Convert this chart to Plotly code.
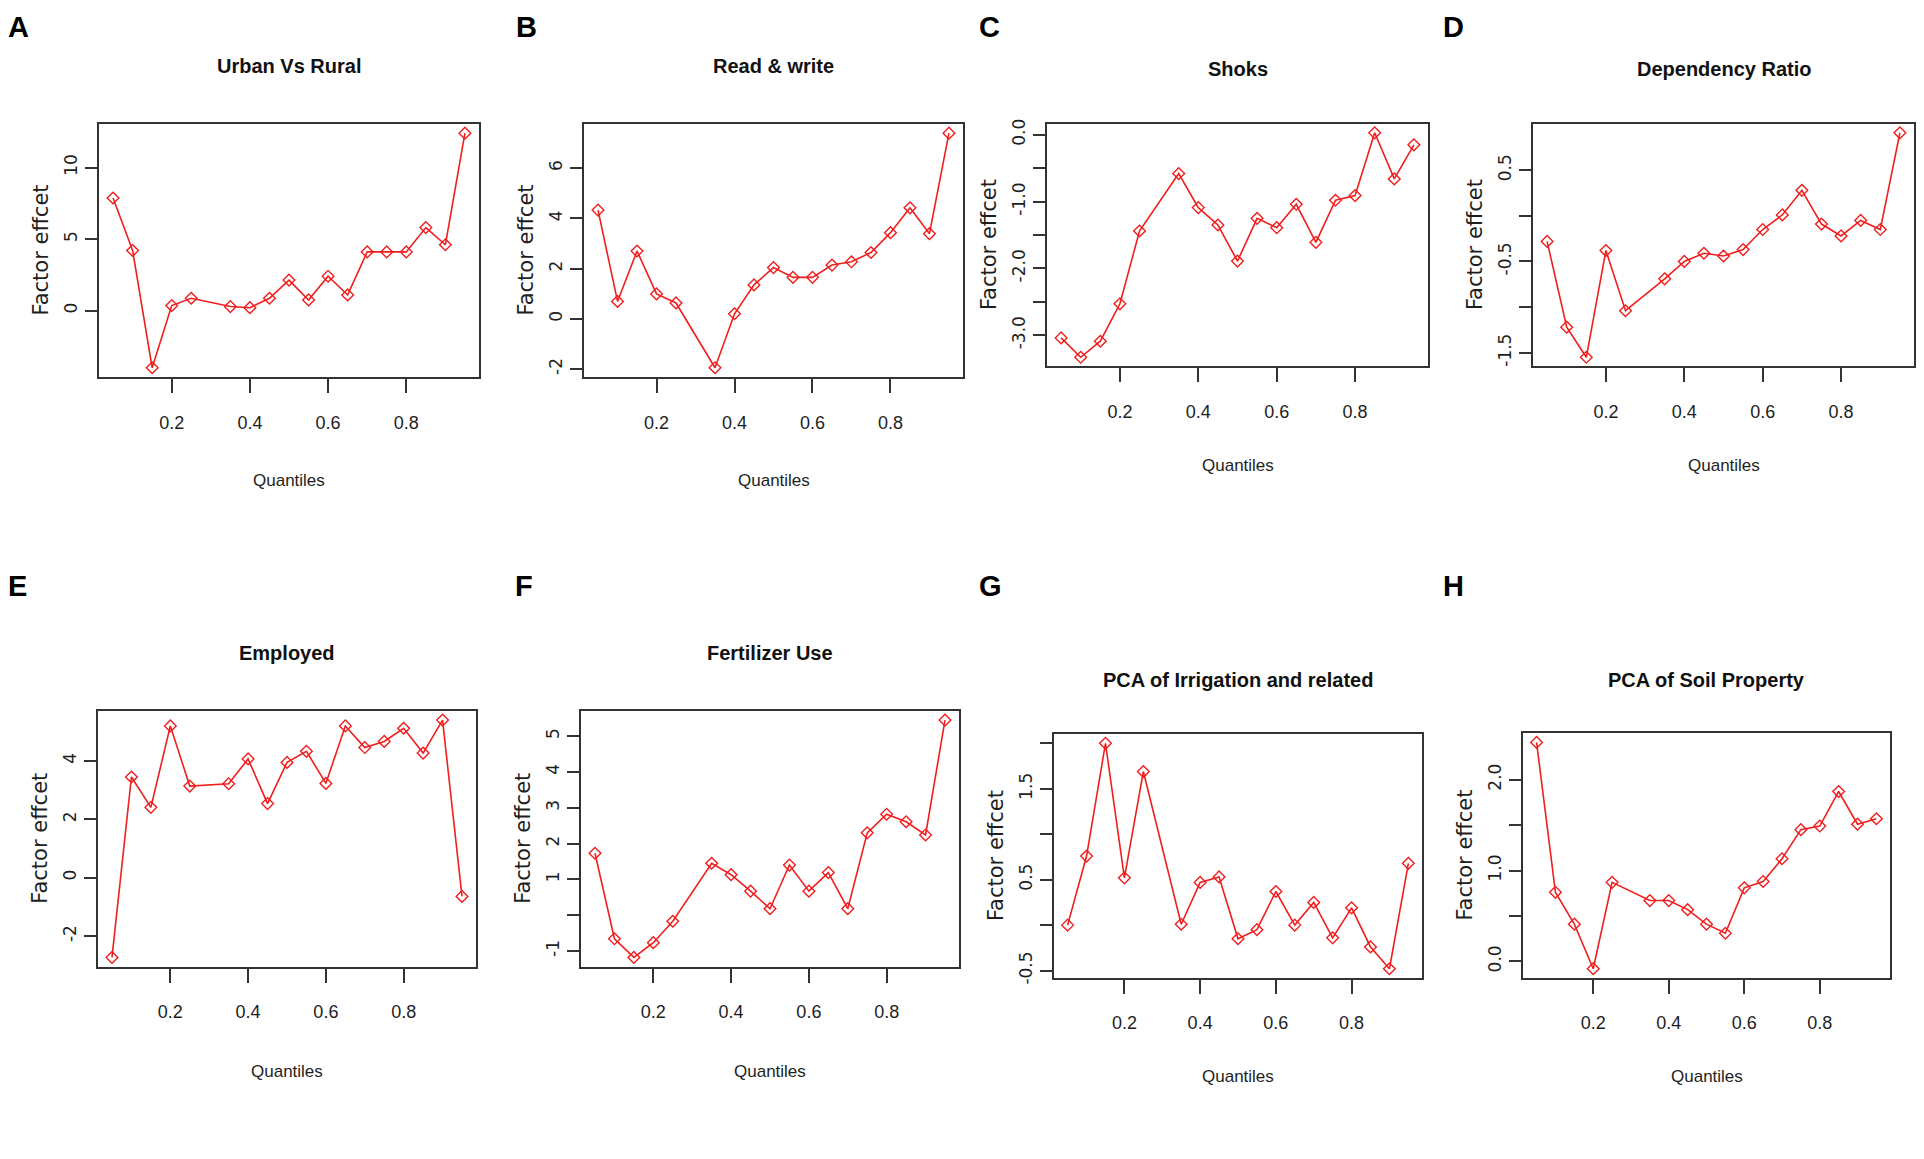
import plotly.graph_objects as go

# page body has an 8px margin; figure is sized to fit inside the window
OFF = 8
W, H = 1908, 1143

# ---------------- data ----------------
quantiles = [0.05, 0.10, 0.15, 0.20, 0.25, 0.35, 0.40, 0.45, 0.50,
             0.55, 0.60, 0.65, 0.70, 0.75, 0.80, 0.85, 0.90, 0.95]

urban_vs_rural = [7.87, 4.2, -4.0, 0.35, 0.86, 0.28, 0.2, 0.86, 2.13,
                  0.74, 2.4, 1.09, 4.1, 4.1, 4.1, 5.8, 4.6, 12.4]
read_write = [4.33, 0.69, 2.7, 0.99, 0.63, -1.95, 0.2, 1.35, 2.04,
              1.65, 1.65, 2.14, 2.27, 2.64, 3.43, 4.42, 3.39, 7.39]
shoks = [-3.04, -3.33, -3.09, -2.53, -1.44, -0.58, -1.09, -1.35, -1.89,
         -1.25, -1.39, -1.04, -1.61, -0.98, -0.91, 0.03, -0.66, -0.15]
dependency_ratio = [-0.28, -1.22, -1.55, -0.38, -1.04, -0.69, -0.50, -0.41, -0.44,
                    -0.37, -0.15, 0.01, 0.28, -0.09, -0.22, -0.05, -0.15, 0.91]
employed = [-2.73, 3.45, 2.41, 5.2, 3.14, 3.22, 4.07, 2.54, 3.95,
            4.33, 3.23, 5.2, 4.46, 4.67, 5.12, 4.27, 5.4, -0.64]
fertilizer_use = [1.73, -0.66, -1.18, -0.77, -0.17, 1.45, 1.13, 0.67, 0.18,
                  1.40, 0.67, 1.19, 0.18, 2.30, 2.82, 2.61, 2.24, 5.45]
pca_irrigation = [0.0, 0.76, 2.0, 0.52, 1.69, 0.01, 0.47, 0.53, -0.15,
                  -0.05, 0.37, 0.0, 0.25, -0.14, 0.19, -0.24, -0.48, 0.68]
pca_soil = [2.41, 0.76, 0.41, -0.08, 0.87, 0.67, 0.67, 0.57, 0.41,
            0.31, 0.81, 0.88, 1.13, 1.45, 1.49, 1.87, 1.51, 1.57]

panel_letters = ["A", "B", "C", "D", "E", "F", "G", "H"]
panel_titles = ["Urban Vs Rural", "Read & write", "Shoks", "Dependency Ratio",
                "Employed", "Fertilizer Use", "PCA of Irrigation and related",
                "PCA of Soil Property"]
x_label = "Quantiles"
y_label = "Factor effcet"

x_tickvals = [0.2, 0.4, 0.6, 0.8]
x_ticktext = ["0.2", "0.4", "0.6", "0.8"]

y_tickvals_A = [0, 5, 10]
y_ticktext_A = ["0", "5", "10"]
y_tickvals_B = [-2, 0, 2, 4, 6]
y_ticktext_B = ["-2", "0", "2", "4", "6"]
y_tickvals_C = [-3.0, -2.5, -2.0, -1.5, -1.0, -0.5, 0.0]
y_ticktext_C = ["-3.0", "", "-2.0", "", "-1.0", "", "0.0"]
y_tickvals_D = [-1.5, -1.0, -0.5, 0.0, 0.5]
y_ticktext_D = ["-1.5", "", "-0.5", "", "0.5"]
y_tickvals_E = [-2, 0, 2, 4]
y_ticktext_E = ["-2", "0", "2", "4"]
y_tickvals_F = [-1, 0, 1, 2, 3, 4, 5]
y_ticktext_F = ["-1", "", "1", "2", "3", "4", "5"]
y_tickvals_G = [-0.5, 0.0, 0.5, 1.0, 1.5, 2.0]
y_ticktext_G = ["-0.5", "", "0.5", "", "1.5", ""]
y_tickvals_H = [0.0, 0.5, 1.0, 1.5, 2.0]
y_ticktext_H = ["0.0", "", "1.0", "", "2.0"]

series = [urban_vs_rural, read_write, shoks, dependency_ratio,
          employed, fertilizer_use, pca_irrigation, pca_soil]
ytickvals = [y_tickvals_A, y_tickvals_B, y_tickvals_C, y_tickvals_D,
             y_tickvals_E, y_tickvals_F, y_tickvals_G, y_tickvals_H]
yticktexts = [y_ticktext_A, y_ticktext_B, y_ticktext_C, y_ticktext_D,
              y_ticktext_E, y_ticktext_F, y_ticktext_G, y_ticktext_H]

# ---------------- layout (pixel boxes in window coordinates) ----------------
boxes = [(99, 479, 120, 376), (584, 963, 120, 376), (1047, 1428, 120, 365), (1533, 1914, 120, 365),
         (98, 476, 713, 972), (581, 959, 713, 972), (1054, 1422, 737, 983), (1523, 1890, 736, 983)]
title_y = [62, 62, 65, 65, 655, 655, 682, 682]
xlab_y = [480, 480, 465, 465, 1078, 1078, 1083, 1083]
letter_pos = [(18, 22), (526, 22), (989, 22), (1453, 22),
              (17, 587), (524, 587), (990, 587), (1453, 587)]

RED = "#f01e1e"
FRAME = "#333333"
TXT = "#1e1e1e"
NARROW = "Liberation Sans Narrow, Arial Narrow, Liberation Sans, Arial, sans-serif"
WIDE = "DejaVu Sans, Liberation Sans, Arial, sans-serif"
BOLD = "Liberation Sans, Arial, sans-serif"


def px_x(p):
    return (p - OFF) / W


def px_y(p):
    return 1 - (p - OFF) / H


def r_range(vals):
    lo, hi = min(vals), max(vals)
    pad = 0.04 * (hi - lo)
    return [lo - pad, hi + pad]


fig = go.Figure()
annotations = []
layout = {}

for i in range(8):
    n = i + 1
    sfx = "" if n == 1 else str(n)
    l, r, t, b = boxes[i]
    fig.add_trace(go.Scatter(
        x=quantiles, y=series[i], mode="lines+markers",
        line=dict(color=RED, width=1.6),
        marker=dict(symbol="diamond-open", size=9, color=RED, line=dict(width=1.4, color=RED)),
        xaxis="x" + sfx, yaxis="y" + sfx, showlegend=False, hoverinfo="x+y"))

    layout["xaxis" + sfx] = dict(
        domain=[px_x(l), px_x(r)], anchor="y" + sfx, range=r_range(quantiles),
        tickmode="array", tickvals=x_tickvals, ticktext=x_ticktext,
        ticks="outside", ticklen=14, tickwidth=2, tickcolor=FRAME,
        showline=True, mirror=True, linecolor=FRAME, linewidth=2,
        showgrid=False, zeroline=False, ticklabelstandoff=14,
        tickfont=dict(family=NARROW, size=18, color=TXT))
    layout["yaxis" + sfx] = dict(
        domain=[px_y(b), px_y(t)], anchor="x" + sfx, range=r_range(series[i]),
        tickmode="array", tickvals=ytickvals[i], ticktext=yticktexts[i],
        tickangle=-90, ticks="outside", ticklen=12, tickwidth=2, tickcolor=FRAME,
        showline=True, mirror=True, linecolor=FRAME, linewidth=2,
        showgrid=False, zeroline=False, ticklabelstandoff=1,
        tickfont=dict(family=WIDE, size=17, color=TXT))

    cx = (l + r) / 2
    annotations.append(dict(text="<b>" + panel_titles[i] + "</b>", x=px_x(cx), y=px_y(title_y[i]),
                            xref="paper", yref="paper", showarrow=False, xanchor="center", yanchor="middle",
                            font=dict(family=NARROW, size=20, color="#111111")))
    annotations.append(dict(text=x_label, x=px_x(cx), y=px_y(xlab_y[i]),
                            xref="paper", yref="paper", showarrow=False, xanchor="center", yanchor="middle",
                            font=dict(family=NARROW, size=17, color=TXT)))
    annotations.append(dict(text=y_label, x=px_x(l - 58), y=px_y((t + b) / 2), textangle=-90,
                            xref="paper", yref="paper", showarrow=False, xanchor="center", yanchor="middle",
                            font=dict(family=WIDE, size=21, color=TXT)))
    lx, ly = letter_pos[i]
    annotations.append(dict(text="<b>" + panel_letters[i] + "</b>", x=px_x(lx), y=px_y(ly),
                            xref="paper", yref="paper", showarrow=False, xanchor="center", yanchor="middle",
                            font=dict(family=BOLD, size=29, color="#000000")))

fig.update_layout(
    width=W, height=H, margin=dict(l=0, r=0, t=0, b=0),
    paper_bgcolor="white", plot_bgcolor="white",
    annotations=annotations, **layout)

fig.write_html("out.html")
